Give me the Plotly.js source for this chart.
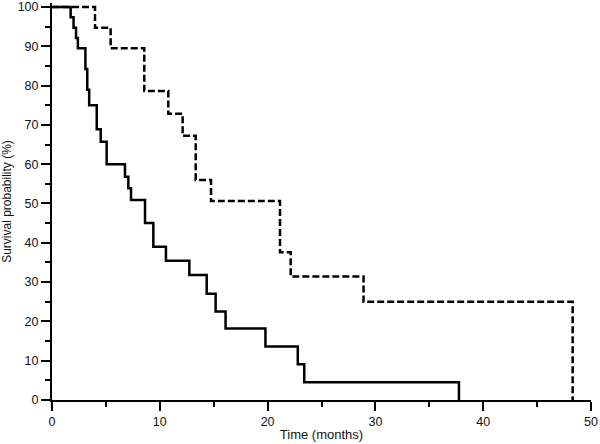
<!DOCTYPE html>
<html>
<head>
<meta charset="utf-8">
<script src="https://cdn.plot.ly/plotly-3.0.1.min.js"></script>
<style>
  html, body { margin: 0; padding: 0; background: #fff; }
  #chart { width: 600px; height: 444px; }
</style>
</head>
<body>
<div id="chart"></div>
<script>
// solid curve (step times in months, survival in %)
var solidTime = [0, 1.73, 2.0, 2.23, 2.4, 3.1, 3.27, 3.45, 4.15, 4.52, 5.07, 6.77, 7.08, 7.33, 8.63, 9.4, 10.57, 12.74, 14.35, 15.18, 16.1, 19.8, 22.8, 23.4, 37.75];
var solidSurv = [100, 97.4, 94.7, 92.1, 89.5, 84.2, 78.9, 75.0, 68.9, 65.7, 60.0, 56.8, 53.9, 50.9, 45.0, 39.0, 35.4, 31.8, 27.0, 22.5, 18.2, 13.6, 9.1, 4.5, 0];

// dashed curve
var dashTime = [0, 3.99, 5.44, 8.56, 10.79, 12.12, 13.33, 14.75, 21.15, 22.14, 28.9, 48.3];
var dashSurv = [100, 94.7, 89.5, 78.6, 72.8, 67.2, 56.0, 50.6, 37.6, 31.4, 25.0, 0];

var traces = [
  {
    x: solidTime, y: solidSurv, type: 'scatter', mode: 'lines',
    line: {shape: 'hv', color: '#000', width: 2.5},
    hoverinfo: 'skip'
  },
  {
    x: dashTime, y: dashSurv, type: 'scatter', mode: 'lines',
    line: {shape: 'hv', color: '#000', width: 2.5, dash: '7px,3px'},
    hoverinfo: 'skip'
  }
];

var fam = 'Liberation Sans, Arial, sans-serif';
var tickFnt = {family: fam, size: 12.5, color: '#111'};

var layout = {
  width: 600, height: 444,
  margin: {l: 52, r: 9, t: 3, b: 44},
  paper_bgcolor: '#fff', plot_bgcolor: '#fff',
  showlegend: false,
  font: {family: fam, size: 12, color: '#111'},
  xaxis: {
    range: [0, 50], dtick: 10, tick0: 0,
    showgrid: false, zeroline: false,
    showline: true, linecolor: '#000', linewidth: 2,
    ticks: 'outside', ticklen: 9, tickwidth: 2, tickcolor: '#000',
    minor: {dtick: 5, ticks: 'outside', ticklen: 5, tickwidth: 2, tickcolor: '#000', showgrid: false},
    tickfont: tickFnt, ticklabeloverflow: 'allow',
    title: {text: 'Time (months)', font: {family: fam, size: 13, color: '#111'}, standoff: 2}
  },
  yaxis: {
    range: [0, 101], dtick: 10, tick0: 0,
    showgrid: false, zeroline: false,
    showline: true, linecolor: '#000', linewidth: 2,
    ticks: 'outside', ticklen: 9, tickwidth: 2, tickcolor: '#000',
    minor: {dtick: 5, ticks: 'outside', ticklen: 5, tickwidth: 2, tickcolor: '#000', showgrid: false},
    tickfont: tickFnt, ticklabeloverflow: 'allow',
    title: {text: 'Survival probability (%)', font: {family: fam, size: 12, color: '#111'}, standoff: 5}
  }
};

Plotly.newPlot('chart', traces, layout, {displayModeBar: false, staticPlot: true});
</script>
</body>
</html>
